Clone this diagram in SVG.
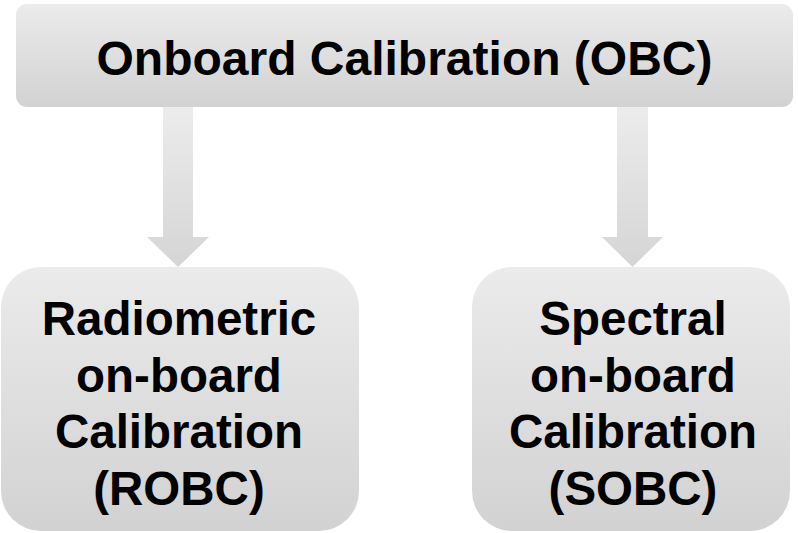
<svg xmlns="http://www.w3.org/2000/svg" width="798" height="533" viewBox="0 0 798 533">
  <defs>
    <linearGradient id="boxFill" x1="0" y1="0" x2="0" y2="1">
      <stop offset="0" stop-color="#ebebeb"/>
      <stop offset="1" stop-color="#d2d2d2"/>
    </linearGradient>
    <linearGradient id="arrowFill" x1="0" y1="0" x2="0" y2="1">
      <stop offset="0" stop-color="#ececec"/>
      <stop offset="1" stop-color="#d5d5d5"/>
    </linearGradient>
  </defs>
  <style>
    .box { fill: url(#boxFill); }
    .arrow { fill: url(#arrowFill); }
    .label { font-family: "Liberation Sans", Arial, sans-serif; font-weight: bold; fill: #000; text-anchor: middle; }
    .title { font-size: 48px; }
    .sub { font-size: 47.5px; }
  </style>
  <rect width="798" height="533" fill="#ffffff"/>

  <!-- connectors -->
  <g id="connectors">
    <path class="arrow" d="M163 107 H193 V237 H209 L178 267 L147 237 H163 Z"/>
    <path class="arrow" d="M617 107 H648 V237 H663 L632.5 267 L602 237 H617 Z"/>
  </g>

  <g id="obc">
    <rect class="box" x="16" y="4" width="777" height="103" rx="11"/>
    <text class="label title" x="404.5" y="75">Onboard Calibration (OBC)</text>
  </g>

  <g id="robc">
    <rect class="box" x="1" y="267" width="358" height="264" rx="40"/>
    <text class="label sub" x="179" y="335">Radiometric</text>
    <text class="label sub" x="179" y="392">on-board</text>
    <text class="label sub" x="179" y="448">Calibration</text>
    <text class="label sub" x="179" y="505">(ROBC)</text>
  </g>

  <g id="sobc">
    <rect class="box" x="472" y="267" width="318" height="264" rx="40"/>
    <text class="label sub" x="633" y="335">Spectral</text>
    <text class="label sub" x="633" y="392">on-board</text>
    <text class="label sub" x="633" y="448">Calibration</text>
    <text class="label sub" x="633" y="505">(SOBC)</text>
  </g>
</svg>
